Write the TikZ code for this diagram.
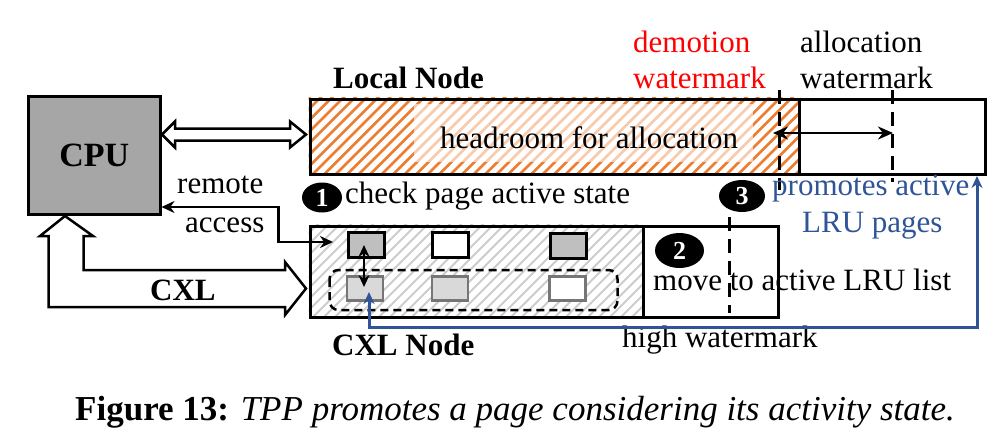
\documentclass[tikz,border=0pt]{standalone}
\usepackage{fontspec}
\setmainfont{Liberation Serif}
\usetikzlibrary{arrows.meta,shapes.geometric}
\definecolor{hatchor}{RGB}{237,125,49}
\definecolor{cpugray}{RGB}{166,166,166}
\definecolor{pgdark}{RGB}{191,191,191}
\definecolor{pglight}{RGB}{217,217,217}
\definecolor{pgedge}{RGB}{118,118,118}
\definecolor{blu}{RGB}{47,85,151}
\definecolor{hatchgray}{RGB}{205,205,205}
\begin{document}
\begin{tikzpicture}[x=1pt,y=-1pt,
  txt/.style={font=\fontsize{31}{36}\selectfont, inner sep=0pt, anchor=base west},
  btxt/.style={font=\fontsize{31}{36}\selectfont\bfseries, inner sep=0pt, anchor=base west},
  numc/.style={ellipse, fill=black, inner sep=0pt, text=white, font=\fontsize{26}{30}\selectfont\bfseries},
  boxe/.style={draw, line width=3pt, inner sep=0pt},
  pgd/.style={draw, line width=3pt, fill=pgdark, minimum width=36pt, minimum height=25pt, inner sep=0pt},
  pgw/.style={draw, line width=3pt, fill=white, minimum width=36pt, minimum height=25pt, inner sep=0pt},
  pgl/.style={draw=pgedge, line width=2.5pt, fill=pglight, minimum width=36pt, minimum height=24pt, inner sep=0pt},
  pglw/.style={draw=pgedge, line width=2.5pt, fill=white, minimum width=36pt, minimum height=24pt, inner sep=0pt},
  wmark/.style={line width=3pt, dash pattern=on 14pt off 8pt},
  blkarr/.style={line width=2.5pt, {Stealth[length=15pt,width=13pt]}-{Stealth[length=15pt,width=13pt]}},
  hollow/.style={draw, line width=2.5pt, fill=white, line join=miter}
]
\useasboundingbox (0,0) rectangle (1005,442);
\fill[white] (0,0) rectangle (1005,442);

% ---------- CPU ----------
\node[boxe, fill=cpugray, minimum width=131.5pt, minimum height=118pt,
      font=\fontsize{34}{40}\selectfont\bfseries] (cpu) at (94.25,155.5) {CPU};

% ---------- Local node ----------
\begin{scope}
  \clip (308.5,97.5) rectangle (799,172.5);
  \foreach \s in {220,231.5,...,810} {
    \draw[hatchor, line width=2.8pt] (\s,175) -- ++(80,-80);
  }
  \fill[white, opacity=0.6] (414,104) rectangle (753,162);
\end{scope}
\node[boxe, minimum width=675pt, minimum height=75pt, anchor=north west] (local) at (308.5,97.5) {};
\draw[line width=3pt] (799,97.5) -- (799,172.5);
\node[txt] (head) at (440,148) {headroom for allocation};
\node[btxt] (localt) at (333,88) {Local Node};

\node[txt, text=red] (dem1) at (633,52) {demotion};
\node[txt, text=red] (dem2) at (633,88) {watermark};
\node[txt] (all1) at (800,52) {allocation};
\node[txt] (all2) at (800,88) {watermark};

\coordinate (dmtop) at (779,90);
\coordinate (dmbot) at (779,190);
\coordinate (altop) at (892,90);
\coordinate (albot) at (892,182);
\draw[wmark] (dmtop) -- (dmbot);
\draw[wmark] (altop) -- (albot);
\coordinate (ha) at (773,133);
\coordinate (hb) at (893,133);
\draw[blkarr] (ha) -- (hb);

% ---------- CPU <-> Local hollow double arrow ----------
\draw[hollow] (162,134.5) -- (175,121.5) -- (175,128.5) -- (290,128.5) -- (290,121.5)
  -- (306,134.5) -- (290,147.5) -- (290,140.5) -- (175,140.5) -- (175,147.5) -- cycle;

% ---------- CXL node ----------
\begin{scope}
  \clip (308.5,224.5) rectangle (642,315.5);
  \foreach \s in {200,211,...,660} {
    \draw[hatchgray, line width=2pt] (\s,320) -- ++(100,-100);
  }
\end{scope}
\node[boxe, minimum width=333.5pt, minimum height=91pt, anchor=north west] (cxl) at (308.5,224.5) {};
\node[boxe, minimum width=135pt, minimum height=91pt, anchor=north west] (cxlr) at (642,224.5) {};

\node[pgd] (a1) at (366,244.5) {};
\node[pgw] (a2) at (450.5,245) {};
\node[pgd] (a3) at (568,246) {};
\node[pgl] (b1) at (365,288.5) {};
\node[pgl] (b2) at (450,288.5) {};
\node[pglw] (b3) at (567.5,288.5) {};
\draw[line width=2.5pt, dash pattern=on 8pt off 5pt, rounded corners=9pt] (329.5,270) rectangle (617.5,310);

\coordinate (ua) at (364,245);
\coordinate (ub) at (364,287);
\draw[line width=2.5pt, {Stealth[length=12pt,width=11pt]}-{Stealth[length=12pt,width=11pt]}] (ua) -- (ub);

\node[btxt] (cxlt) at (332,355) {CXL Node};

% remote access
\coordinate (ra1) at (161.5,207);
\coordinate (ra2) at (333,242);
\draw[line width=2.5pt, {Stealth[length=13pt,width=12pt]}-{Stealth[length=13pt,width=12pt]}]
  (ra1) -- (278.5,207) -- (278.5,242) -- (ra2);
\node[txt] (rem) at (177,193) {remote};
\node[txt] (acc) at (185,232) {access};

% CXL hollow arrow
\draw[hollow] (65,216) -- (93,236) -- (83.5,236) -- (83.5,270) -- (285,270) -- (285,262)
  -- (306,288.5) -- (285,315) -- (285,307) -- (48.5,307) -- (48.5,236) -- (40,236) -- cycle;
\node[btxt] (cxllab) at (150,300) {CXL};

% numbered steps
\node[numc, minimum width=40pt, minimum height=30pt] (n1) at (322,197.5) {1};
\node[txt] (chk) at (345,203) {check page active state};
\node[numc, minimum width=49pt, minimum height=35pt] (n2) at (679.5,250.5) {2};
\node[numc, minimum width=46pt, minimum height=32pt] (n3) at (742,196) {3};

\coordinate (hwtop) at (729,217);
\coordinate (hwbot) at (729,313);
\draw[wmark] (hwtop) -- (hwbot);
\node[txt] (mv) at (653,290) {move to active LRU list};
\node[txt] (hw) at (622,347) {high watermark};

% blue promote arrow
\coordinate (bp1) at (369,292);
\coordinate (bp2) at (977,176);
\draw[blu, line width=3pt, {Stealth[length=12pt,width=11pt]}-{Stealth[length=12pt,width=11pt]}]
  (bp1) -- (369,327) -- (977,327) -- (bp2);
\node[txt, text=blu] (pr1) at (772,195) {promotes active};
\node[txt, text=blu] (pr2) at (802,232) {LRU pages};

% caption
\node[inner sep=0pt, anchor=base west, font=\fontsize{35}{40}\selectfont] (cap) at (75,420)
  {\textbf{Figure 13:} \textit{TPP promotes a page considering its activity state.}};
\end{tikzpicture}
\end{document}
